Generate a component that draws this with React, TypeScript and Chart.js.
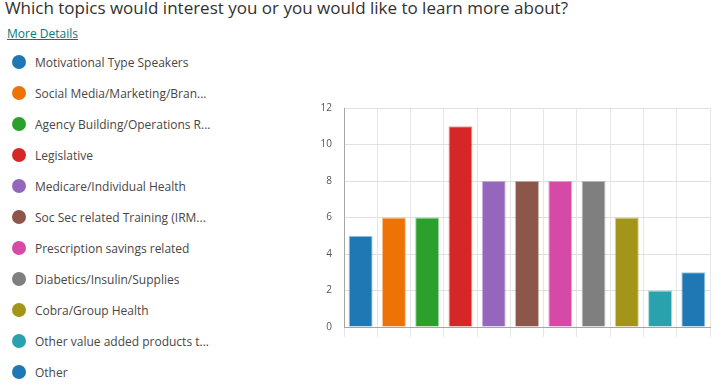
import React, { useEffect, useRef } from "react";
import { Chart, registerables } from "chart.js";

Chart.register(...registerables);

const titleText = "Which topics would interest you or you would like to learn more about?";
const categories = [
  "Motivational Type Speakers",
  "Social Media/Marketing/Bran...",
  "Agency Building/Operations R...",
  "Legislative",
  "Medicare/Individual Health",
  "Soc Sec related Training (IRM...",
  "Prescription savings related",
  "Diabetics/Insulin/Supplies",
  "Cobra/Group Health",
  "Other value added products t...",
  "Other",
];
const counts = [5, 6, 6, 11, 8, 8, 8, 8, 6, 2, 3];
const colors = [
  "#1f77b4",
  "#ed7306",
  "#2ca02c",
  "#d62728",
  "#9467bd",
  "#8c564b",
  "#d44aa6",
  "#7f7f7f",
  "#a3941a",
  "#2aa2ad",
  "#1f77b4",
];
const yTicks = [0, 2, 4, 6, 8, 10, 12];

const FONT = "'Segoe UI', 'Open Sans', 'Noto Sans', sans-serif";

function hexToRgba(hex: string, a: number) {
  const n = parseInt(hex.slice(1), 16);
  return `rgba(${(n >> 16) & 255},${(n >> 8) & 255},${n & 255},${a})`;
}

export default function App() {
  const ref = useRef<HTMLCanvasElement | null>(null);
  useEffect(() => {
    document.body.style.margin = "0";
    const chart = new Chart(ref.current!, {
      type: "bar",
      data: {
        labels: categories,
        datasets: [
          {
            data: counts,
            backgroundColor: colors,
            borderColor: colors.map((c) => hexToRgba(c, 0.45)),
            borderWidth: 1,
            barPercentage: 0.72,
            categoryPercentage: 1,
          },
        ],
      },
      options: {
        animation: false,
        responsive: false,
        layout: { padding: { top: 7, right: 6, left: 0, bottom: 0 } },
        plugins: { legend: { display: false }, tooltip: { enabled: false } },
        scales: {
          x: {
            grid: {
              display: true,
              offset: true,
              color: "#e6e6e6",
              tickLength: 10,
              drawTicks: true,
            },
            border: { color: "#a6a6a6", width: 1 },
            ticks: { display: false },
            afterFit: (s: any) => {
              s.height = 12;
            },
          },
          y: {
            min: 0,
            max: 12,
            afterBuildTicks: (s: any) => {
              s.ticks = yTicks.map((v) => ({ value: v }));
            },
            grid: { color: "#e0e0e0", drawTicks: false },
            border: { color: "#a6a6a6", width: 1 },
            ticks: {
              padding: 12,
              color: "#555",
              font: { family: FONT, size: 10 },
            },
            afterFit: (s: any) => {
              s.width = 44;
            },
          },
        },
      },
    });
    return () => chart.destroy();
  }, []);

  return (
    <div
      style={{
        position: "relative",
        width: 726,
        height: 387,
        overflow: "hidden",
        background: "#fff",
        fontFamily: FONT,
      }}
    >
      <div
        style={{
          position: "absolute",
          left: -4,
          top: -4,
          fontSize: 17,
          color: "#323130",
          whiteSpace: "nowrap",
        }}
      >
        {". " + titleText}
      </div>
      <div
        style={{
          position: "absolute",
          left: 7,
          top: 25,
          fontSize: 12,
          color: "#03787c",
          textDecoration: "underline",
        }}
      >
        More Details
      </div>
      {categories.map((c, i) => (
        <div
          key={i}
          style={{
            position: "absolute",
            left: 12,
            top: 54 + i * 31,
            height: 16,
            display: "flex",
            alignItems: "center",
            whiteSpace: "nowrap",
          }}
        >
          <span
            style={{
              width: 14,
              height: 14,
              borderRadius: "50%",
              background: colors[i],
              display: "inline-block",
              marginRight: 9,
            }}
          />
          <span style={{ fontSize: 12, color: "#484644" }}>{c}</span>
        </div>
      ))}
      <canvas
        ref={ref}
        width={416}
        height={255}
        style={{ position: "absolute", left: 300, top: 90, width: 416, height: 255 }}
      />
    </div>
  );
}
